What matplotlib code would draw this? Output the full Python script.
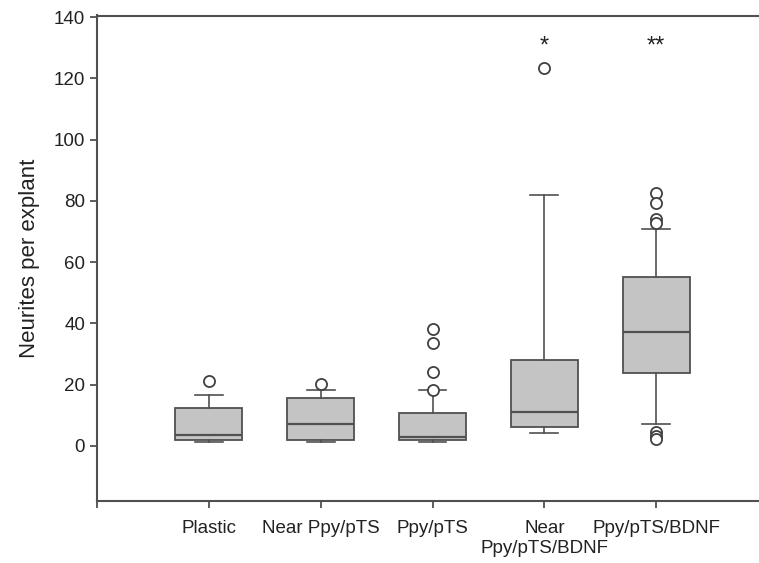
import matplotlib
matplotlib.use("Agg")
import matplotlib.pyplot as plt

plt.rcParams['font.family'] = ['Liberation Sans', 'DejaVu Sans']

categories = ["Plastic", "Near Ppy/pTS", "Ppy/pTS", "Near\nPpy/pTS/BDNF", "Ppy/pTS/BDNF"]
q1 = [2.0, 2.0, 2.0, 6.3, 23.7]
medians = [3.6, 7.3, 3.0, 11.2, 37.3]
q3 = [12.5, 15.7, 10.7, 28.1, 55.0]
whislo = [1.2, 1.2, 1.2, 4.1, 7.1]
whishi = [16.7, 18.2, 18.2, 81.9, 70.7]
outliers = [[21.2], [20.2], [18.3, 24.2, 33.5, 38.2], [123.2], [82.4, 79.2, 74.0, 72.9, 4.5, 3.2, 2.2]]
signif = ["", "", "", "*", "**"]

edge = "#505050"
fig = plt.figure(figsize=(7.59, 5.63), dpi=100)
ax = fig.add_axes([97/759, 1-501/563, (768-97)/759, (501-15.5)/563])

stats = []
for i in range(len(categories)):
    stats.append(dict(med=medians[i], q1=q1[i], q3=q3[i], whislo=whislo[i],
                      whishi=whishi[i], fliers=outliers[i], label=categories[i]))
pos = list(range(1, len(categories)+1))
ax.bxp(stats, positions=pos, widths=0.6, patch_artist=True, capwidths=0.25,
       boxprops=dict(facecolor="#c4c4c4", edgecolor=edge, linewidth=1.3),
       medianprops=dict(color=edge, linewidth=1.6),
       whiskerprops=dict(color=edge, linewidth=1.2),
       capprops=dict(color=edge, linewidth=1.2),
       flierprops=dict(marker='o', markerfacecolor='white', markeredgecolor="#404040",
                       markersize=8, markeredgewidth=1.3))

for p, s in zip(pos, signif):
    if s:
        ax.text(p, 130.5, s, ha='center', va='center', fontsize=17, color='#222222')

ax.set_xlim(0, 6)
ax.set_ylim(-18, 140.5)
ax.set_yticks([0, 20, 40, 60, 80, 100, 120, 140])
ax.set_xticks([0] + pos)
ax.set_xticklabels([""] + categories)
ax.tick_params(axis='both', direction='out', length=5, width=1.3, color=edge,
               labelsize=13.5, labelcolor='#222222')
ax.tick_params(axis='x', pad=9)
ax.set_ylabel("Neurites per explant", fontsize=16, color='#222222', labelpad=10)
for sp in ['left', 'top', 'bottom']:
    ax.spines[sp].set_color(edge)
    ax.spines[sp].set_linewidth(1.5)
ax.spines['right'].set_visible(False)

fig.savefig("out.png", dpi=100)
